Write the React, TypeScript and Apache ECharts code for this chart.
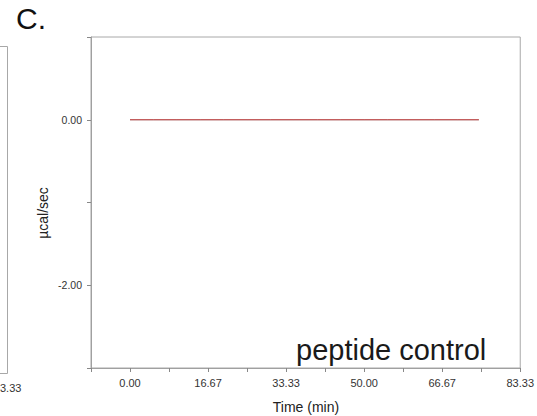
import React, { useEffect, useRef } from "react";
import * as echarts from "echarts";

// Data
const timeMin: number[] = [0, 5, 10, 15, 20, 25, 30, 35, 40, 45, 50, 55, 60, 65, 70, 74.5];
const rawHeat: number[] = [0, 0, 0, 0, 0, 0, 0, 0, 0, 0, 0, 0, 0, 0, 0, 0];
const baseline: number[] = [0, 0, 0, 0, 0, 0, 0, 0, 0, 0, 0, 0, 0, 0, 0, 0];
const yLabeled: number[] = [0, -2];

const FONT = "Liberation Sans, Arial, sans-serif";

export default function App() {
  const ref = useRef<HTMLDivElement>(null);
  useEffect(() => {
    if (!ref.current) return;
    const chart = echarts.init(ref.current, null, { renderer: "svg" });
    const step = 25 / 3;
    chart.setOption({
      animation: false,
      backgroundColor: "#ffffff",
      grid: {
        left: 91,
        top: 37,
        right: 16,
        bottom: 48,
        show: true,
        borderColor: "#a8a8a8",
        borderWidth: 1,
      },
      xAxis: {
        type: "value",
        min: -step,
        max: 10 * step,
        interval: step,
        axisLine: { show: true, onZero: false, lineStyle: { color: "#a0a0a0", width: 1 } },
        axisTick: { show: true, length: 4, lineStyle: { color: "#888" } },
        splitLine: { show: false },
        axisLabel: {
          color: "#333",
          fontFamily: FONT,
          fontSize: 11,
          margin: 9,
          showMinLabel: true,
          showMaxLabel: true,
          formatter: (v: number) => {
            const k = Math.round(v / step);
            return k % 2 === 0 && k >= 0 ? (k * step).toFixed(2) : "";
          },
        },
      },
      yAxis: {
        type: "value",
        min: -3,
        max: 1,
        interval: 1,
        axisLine: { show: true, onZero: false, lineStyle: { color: "#a0a0a0", width: 1 } },
        axisTick: { show: true, length: 4, lineStyle: { color: "#888" } },
        splitLine: { show: false },
        axisLabel: {
          color: "#333",
          fontFamily: FONT,
          fontSize: 10.5,
          margin: 9,
          formatter: (v: number) =>
            yLabeled.indexOf(Math.round(v)) >= 0 ? v.toFixed(2) : "",
        },
      },
      series: [
        {
          type: "line",
          name: "raw",
          data: timeMin.map((t, i) => [t, rawHeat[i]]),
          symbol: "none",
          lineStyle: { color: "#222", width: 1, opacity: 0.6 },
        },
        {
          type: "line",
          name: "baseline",
          data: timeMin.map((t, i) => [t, baseline[i]]),
          symbol: "none",
          lineStyle: { color: "#d83a3a", width: 1, opacity: 0.85 },
        },
      ],
      graphic: [
        {
          type: "text",
          x: 16,
          y: 18,
          style: {
            text: "C.",
            font: `30px ${FONT}`,
            fill: "#111",
            align: "left",
            verticalAlign: "middle",
          },
        },
        {
          type: "text",
          x: 296,
          y: 350,
          style: {
            text: "peptide control",
            font: `29px ${FONT}`,
            fill: "#1a1a1a",
            align: "left",
            verticalAlign: "middle",
          },
        },
        {
          type: "text",
          x: 43,
          y: 213,
          rotation: Math.PI / 2,
          style: {
            text: "µcal/sec",
            font: `14px ${FONT}`,
            fill: "#222",
            align: "center",
            verticalAlign: "middle",
          },
        },
        {
          type: "text",
          x: 306,
          y: 407,
          style: {
            text: "Time (min)",
            font: `14px ${FONT}`,
            fill: "#222",
            align: "center",
            verticalAlign: "middle",
          },
        },
        // partial neighbouring panel at the left edge
        {
          type: "polyline",
          shape: { points: [[0, 46.5], [7.5, 46.5], [7.5, 373.5], [0, 373.5]] },
          style: { stroke: "#a8a8a8", lineWidth: 1, fill: "none" },
        },
        {
          type: "text",
          x: 0,
          y: 388,
          style: {
            text: "3.33",
            font: `11px ${FONT}`,
            fill: "#333",
            align: "left",
            verticalAlign: "middle",
          },
        },
      ],
    });
    return () => chart.dispose();
  }, []);
  return (
    <div
      ref={ref}
      style={{ position: "fixed", left: 0, top: 0, width: 537, height: 416 }}
    />
  );
}
